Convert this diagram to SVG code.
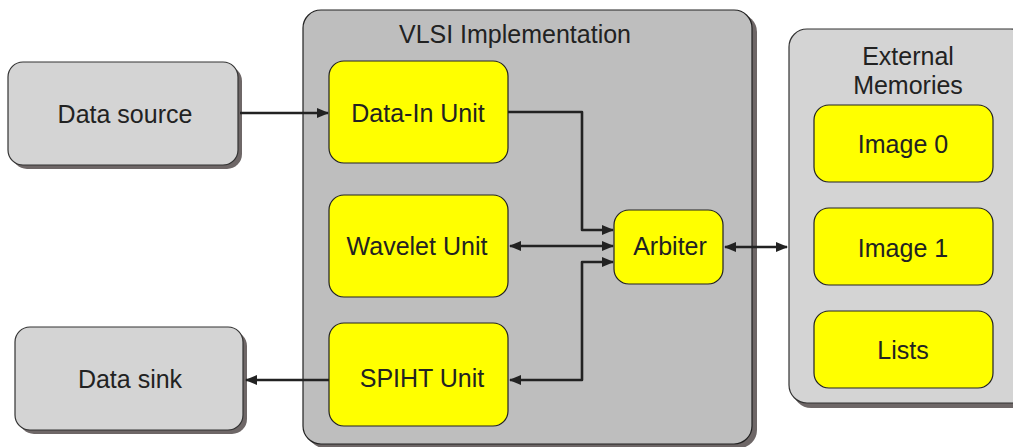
<svg xmlns="http://www.w3.org/2000/svg" width="1013" height="447" viewBox="0 0 1013 447">
<style>
  .txt { font-family: "Liberation Sans", Arial, Helvetica, sans-serif; font-size: 25px; fill: #222; text-anchor: middle; }
  .gray { fill: #d4d4d4; stroke: #333; stroke-width: 1.2; }
  .shadow { fill: #6e6767; }
  .yellow { fill: #ffff00; stroke: #222; stroke-width: 1.2; }
  .conn { fill: none; stroke: #222; stroke-width: 2.6; stroke-linejoin: round; }
</style>
<defs>
  <marker id="ah" viewBox="0 0 12 10" refX="11" refY="5" markerWidth="12" markerHeight="10" markerUnits="userSpaceOnUse" orient="auto-start-reverse">
    <path d="M0,0 L12,5 L0,10 z" fill="#222"/>
  </marker>
</defs>
<rect width="1013" height="447" fill="#ffffff"/>

<g id="vlsi">
  <rect class="shadow" x="307" y="14" width="450" height="434" rx="18"/>
  <rect x="303" y="10" width="449" height="434" rx="18" fill="#bebebe" stroke="#222" stroke-width="1.2"/>
  <text class="txt" x="515" y="43">VLSI Implementation</text>
</g>

<g id="external">
  <rect class="shadow" x="793" y="34" width="240" height="374" rx="18"/>
  <rect class="gray" x="789" y="29" width="240" height="374" rx="18"/>
  <text class="txt" x="908" y="65">External</text>
  <text class="txt" x="908" y="94">Memories</text>
</g>

<g id="data-source">
  <rect class="shadow" x="12" y="66" width="230" height="103" rx="15"/>
  <rect class="gray" x="8" y="62" width="230" height="103" rx="15"/>
  <text class="txt" x="125" y="123">Data source</text>
</g>

<g id="data-sink">
  <rect class="shadow" x="19" y="331" width="228" height="103" rx="15"/>
  <rect class="gray" x="15" y="327" width="228" height="103" rx="15"/>
  <text class="txt" x="130" y="388">Data sink</text>
</g>

<g id="data-in">
  <rect class="yellow" x="329" y="61" width="179" height="102" rx="15"/>
  <text class="txt" x="418" y="122">Data-In Unit</text>
</g>

<g id="wavelet">
  <rect class="yellow" x="329" y="195" width="179" height="102" rx="15"/>
  <text class="txt" x="417" y="255">Wavelet Unit</text>
</g>

<g id="spiht">
  <rect class="yellow" x="329" y="323" width="179" height="103" rx="15"/>
  <text class="txt" x="422" y="387">SPIHT Unit</text>
</g>

<g id="arbiter">
  <rect class="yellow" x="614" y="210" width="109" height="74" rx="15"/>
  <text class="txt" x="670" y="255">Arbiter</text>
</g>

<g id="image0">
  <rect class="yellow" x="814" y="105" width="179" height="77" rx="15"/>
  <text class="txt" x="903" y="153">Image 0</text>
</g>

<g id="image1">
  <rect class="yellow" x="814" y="208" width="179" height="77" rx="15"/>
  <text class="txt" x="903" y="257">Image 1</text>
</g>

<g id="lists">
  <rect class="yellow" x="814" y="311" width="179" height="77" rx="15"/>
  <text class="txt" x="903" y="359">Lists</text>
</g>

<g id="connectors">
  <path class="conn" d="M240,113 L328,113" marker-end="url(#ah)"/>
  <path class="conn" d="M508,112 L582,112 L582,230 L613,230" marker-end="url(#ah)"/>
  <path class="conn" d="M510,246 L613,246" marker-start="url(#ah)" marker-end="url(#ah)"/>
  <path class="conn" d="M510,380 L582,380 L582,262 L613,262" marker-start="url(#ah)" marker-end="url(#ah)"/>
  <path class="conn" d="M725,247 L787,247" marker-start="url(#ah)" marker-end="url(#ah)"/>
  <path class="conn" d="M329,380 L246,380" marker-end="url(#ah)"/>
</g>
</svg>
